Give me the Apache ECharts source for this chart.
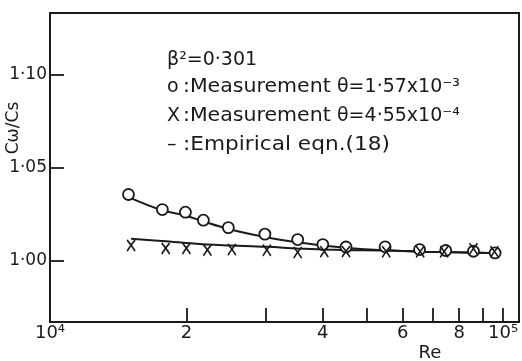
<!DOCTYPE html>
<html>
<head>
<meta charset="utf-8">
<script src="https://cdn.jsdelivr.net/npm/echarts@6/dist/echarts.min.js"></script>
<style>html,body{margin:0;padding:0;background:#fff}#c{width:522px;height:361px}</style>
</head>
<body>
<div id="c"></div>
<script>
// Measured data (Re, Cω/Cs)
const reCircle = [14900, 17700, 19900, 21800, 24750, 29800, 35200, 40000, 45000, 54900, 65400, 74700, 86000, 96000];
const cwCircle = [1.0355, 1.0274, 1.0260, 1.0217, 1.0177, 1.0142, 1.0113, 1.0086, 1.0073, 1.0074, 1.0059, 1.0054, 1.0050, 1.0041];
const reCross = [15100, 18000, 20000, 22250, 25200, 30100, 35200, 40300, 45000, 55200, 65600, 74100, 86000, 95700];
const cwCross = [1.0081, 1.0065, 1.0065, 1.0056, 1.0059, 1.0055, 1.0043, 1.0048, 1.0048, 1.0047, 1.0047, 1.0047, 1.0063, 1.0047];
// Empirical eqn.(18) curves
const reFitUpper = [14900, 17700, 19900, 21800, 24750, 29800, 35200, 40000, 45000, 54900, 65400, 74700, 86000, 96000];
const fitUpper = [1.0341, 1.0270, 1.0242, 1.0210, 1.0170, 1.0127, 1.0098, 1.0081, 1.0068, 1.0055, 1.0048, 1.0046, 1.0043, 1.0038];
const reFitLower = [15100, 18000, 22250, 25200, 30100, 35200, 40300, 45000, 55200, 65600, 74100, 86000, 95700];
const fitLower = [1.0117, 1.0104, 1.0086, 1.0081, 1.0074, 1.0065, 1.0059, 1.0056, 1.0054, 1.0048, 1.0046, 1.0043, 1.0038];
// Axis ticks
const xTickMarks = [20000, 30000, 40000, 50000, 60000, 70000, 80000, 90000, 100000];
const xLabelValues = [10000, 20000, 40000, 60000, 80000, 100000];
const xLabelTexts = ['10⁴', '2', '4', '6', '8', '10⁵'];
const yTickValues = [1.00, 1.05, 1.10];
const yTickTexts = ['1·00', '1·05', '1·10'];

const L = Math.log10;
const pairs = (xs, ys) => xs.map((x, i) => [L(x), ys[i]]);
const ink = '#1a1a1a';
const font = 'DejaVu Sans';
const tf = '19px "DejaVu Sans"';
const txt = (x, y, text, sx) => ({type: 'text', x: x, y: y, scaleX: sx || 1, style: {text: text, fill: ink, font: tf, verticalAlign: 'middle'}});

const chart = echarts.init(document.getElementById('c'), null, {renderer: 'canvas'});
chart.setOption({
  animation: false,
  backgroundColor: '#fff',
  grid: {left: 50, right: 3, top: 13, bottom: 39, show: true, borderColor: ink, borderWidth: 2, backgroundColor: 'transparent'},
  xAxis: {
    type: 'value', min: 4, max: 5.035,
    splitLine: {show: false},
    axisLine: {show: true, lineStyle: {color: ink, width: 2}},
    axisTick: {show: true, inside: true, length: 14, lineStyle: {color: ink, width: 1.8}, customValues: xTickMarks.map(L)},
    axisLabel: {
      customValues: xLabelValues.map(L), margin: 2, color: ink, fontFamily: font, fontSize: 18,
      formatter: v => { let best = 0; xLabelValues.forEach((x, i) => { if (Math.abs(L(x) - v) < Math.abs(L(xLabelValues[best]) - v)) best = i; }); return xLabelTexts[best]; }
    }
  },
  yAxis: {
    type: 'value', min: 0.967, max: 1.133,
    splitLine: {show: false},
    axisLine: {show: true, lineStyle: {color: ink, width: 2}},
    axisTick: {show: true, inside: true, length: 14, lineStyle: {color: ink, width: 1.8}, customValues: yTickValues},
    axisLabel: {
      customValues: yTickValues, margin: 3, color: ink, fontFamily: font, fontSize: 17,
      formatter: v => { let best = 0; yTickValues.forEach((y, i) => { if (Math.abs(y - v) < Math.abs(yTickValues[best] - v)) best = i; }); return yTickTexts[best]; }
    }
  },
  series: [
    {type: 'line', smooth: 0.4, showSymbol: false, data: pairs(reFitUpper, fitUpper), lineStyle: {color: ink, width: 2}, z: 2},
    {type: 'line', smooth: 0.4, showSymbol: false, data: pairs(reFitLower, fitLower), lineStyle: {color: ink, width: 2}, z: 2},
    {type: 'scatter', symbol: 'circle', symbolSize: 11, data: pairs(reCircle, cwCircle),
      itemStyle: {color: '#fff', borderColor: ink, borderWidth: 1.8, opacity: 1}, z: 3},
    {type: 'scatter', symbol: 'path://M0,0L4,6L8,0M4,6L0,13M4,6L8,13', symbolSize: [8, 11], data: pairs(reCross, cwCross),
      itemStyle: {color: 'rgba(0,0,0,0)', borderColor: ink, borderWidth: 1.7, opacity: 1}, z: 4}
  ],
  graphic: [
    {type: 'text', x: 14, y: 128, rotation: Math.PI / 2, style: {text: 'Cω/Cs', fill: ink, font: '17px "DejaVu Sans"', align: 'center', verticalAlign: 'middle'}},
    {type: 'text', x: 430, y: 353, style: {text: 'Re', fill: ink, font: '18px "DejaVu Sans"', align: 'center', verticalAlign: 'middle'}},
    txt(167, 60, 'β²=0·301'),
    txt(167, 87, 'o'), txt(183, 87, ':Measurement', 1.08), txt(337, 87, 'θ=1·57x10⁻³'),
    txt(167, 116, 'X'), txt(183, 116, ':Measurement', 1.08), txt(337, 116, 'θ=4·55x10⁻⁴'),
    txt(167, 145, '–'), txt(183, 145, ':Empirical eqn.(18)', 1.14)
  ]
});
</script>
</body>
</html>
